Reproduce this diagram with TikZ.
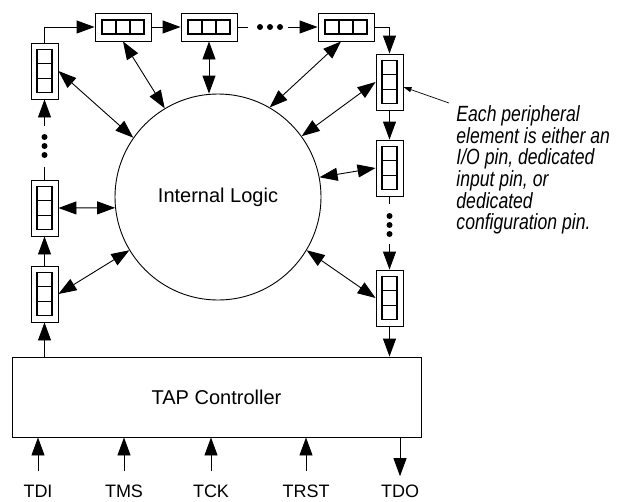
\documentclass[tikz,border=0pt]{standalone}
\usepackage{fontspec}
\setmainfont{Liberation Sans}
\newfontfamily\notefont[FakeStretch=0.8]{Liberation Sans}
\usetikzlibrary{arrows.meta}

\begin{document}
\begin{tikzpicture}[x=1pt,y=-1pt,line width=0.9pt,font=\fontsize{20}{22}\selectfont,
        arr/.style={-{Triangle[length=18pt,width=13pt]}},
        biarr/.style={{Triangle[length=18pt,width=13pt]}-{Triangle[length=18pt,width=13pt]}},
        hcell/.style={draw,minimum width=56pt,minimum height=28pt,inner sep=0pt},
        vcell/.style={draw,minimum width=27pt,minimum height=56pt,inner sep=0pt},
        slot/.style={line width=1.2pt},
        sig/.style={font=\fontsize{18}{20}\selectfont,inner sep=0pt}]
        \useasboundingbox (0,0) rectangle (617,501);

        %boundary cells
        \node[hcell] (t1) at (123,27) {};
        \node[hcell] (t2) at (209,27) {};
        \node[hcell] (t3) at (346,27) {};
        \node[vcell] (l1) at (44.5,71) {};
        \node[vcell] (l2) at (44.5,208) {};
        \node[vcell] (l3) at (44.5,294) {};
        \node[vcell] (r1) at (389.5,82) {};
        \node[vcell] (r2) at (389.5,168) {};
        \node[vcell] (r3) at (389.5,298) {};

        % three slots in each cell
        \foreach \c in {t1,t2,t3} {
            \draw[slot] ([shift={(-21pt,-7pt)}]\c.center) rectangle ([shift={(21pt,7pt)}]\c.center);
            \draw[slot] ([shift={(-7pt,-7pt)}]\c.center) -- ([shift={(-7pt,7pt)}]\c.center);
            \draw[slot] ([shift={(7pt,-7pt)}]\c.center) -- ([shift={(7pt,7pt)}]\c.center);
        }
        \foreach \c in {l1,l2,l3,r1,r2,r3} {
            \draw[slot] ([shift={(-7.5pt,-21.5pt)}]\c.center) rectangle ([shift={(7.5pt,21.5pt)}]\c.center);
            \draw[slot] ([shift={(-7.5pt,-7.2pt)}]\c.center) -- ([shift={(7.5pt,-7.2pt)}]\c.center);
            \draw[slot] ([shift={(-7.5pt,7.2pt)}]\c.center) -- ([shift={(7.5pt,7.2pt)}]\c.center);
        }

        %logic and controller
        \node[draw,circle,minimum size=206pt,inner sep=0pt] (logic) at (218,197) {Internal Logic};
        \node[draw,minimum width=409pt,minimum height=80pt] (tap) at (216.5,397) {TAP Controller};

        %scan chain
        \draw[arr] (l1.north) |- (t1.west);
        \draw[arr] (t1) -- (t2);
        \coordinate (ta) at (248,27);
        \coordinate (tb) at (288,27);
        \draw (t2) -- (ta);
        \foreach \x in {260,270,280} \fill (\x,27) circle (3pt);
        \draw[arr] (tb) -- (t3);
        \draw[arr] (t3.east) -| (r1.north);
        \draw[arr] (r1) -- (r2);
        \coordinate (ra) at (389.5,204);
        \coordinate (rb) at (389.5,244);
        \draw (r2) -- (ra);
        \foreach \y in {216,225,234} \fill (389.5,\y) circle (3pt);
        \draw[arr] (rb) -- (r3);
        \draw[arr] (r3) -- (r3 |- tap.north);
        \draw[arr] (l3 |- tap.north) -- (l3);
        \draw[arr] (l3) -- (l2);
        \coordinate (la) at (44.5,167);
        \coordinate (lb) at (44.5,126);
        \draw (l2) -- (la);
        \foreach \y in {137,146,155} \fill (44.5,\y) circle (3pt);
        \draw[arr] (lb) -- (l1);

        %links to the logic
        \draw[biarr] (l1.east) -- (logic.145);
        \draw[biarr] (t1.south) -- (logic.121);
        \draw[biarr] (t2.south) -- (t2.south |- logic.north);
        \draw[biarr] ([xshift=-5pt]t3.south) -- (logic.60);
        \draw[biarr] (r1.west) -- (logic.36);
        \draw[biarr] (r2.west) -- (logic.11);
        \draw[biarr] (r3.west) -- (logic.-31);
        \draw[biarr] (l2.east) -- (logic.186);
        \draw[biarr] (l3.east) -- (logic.211);

        %pins
        \foreach \n/\t/\x in {tdi/TDI/38,tms/TMS/124,tck/TCK/211,trst/TRST/306} {
            \node[sig] (\n) at (\x,491) {\t};
            \draw[arr] ([yshift=13pt]\n.north) -- (\n |- tap.south);
        }
        \node[sig] (tdo) at (400,491) {TDO};
        \draw[arr] (tdo |- tap.south) -- ([yshift=8pt]tdo.north);

        %note
        \node[font=\notefont\itshape\fontsize{22}{21.7}\selectfont,align=left,anchor=north west,inner sep=0pt] (note) at (456,105)
            {Each peripheral\\element is either an\\I/O pin, dedicated\\input pin, or\\dedicated\\configuration pin.};
        \coordinate (notetail) at (449,103);
        \draw[-{Triangle[length=8pt,width=5pt]},line width=0.7pt] (notetail) -- ([yshift=-5pt]r1.east);
    \end{tikzpicture}
\end{document}
